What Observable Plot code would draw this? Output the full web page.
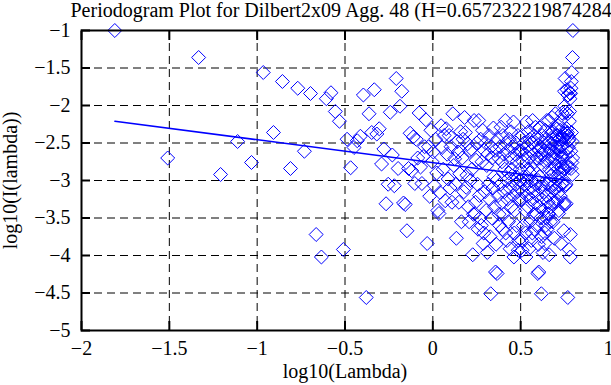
<!DOCTYPE html>
<html><head><meta charset="utf-8">
<script src="https://cdn.jsdelivr.net/npm/d3@7"></script>
<script src="https://cdn.jsdelivr.net/npm/@observablehq/plot@0.6"></script>
<style>html,body{margin:0;padding:0;background:#fff;} svg{display:block}</style>
</head><body><div id="chart"></div>
<script>
const title = "Periodogram Plot for Dilbert2x09 Agg. 48 (H=0.657232219874284";
const xLabel = "log10(Lambda)";
const yLabel = "log10(I(lambda))";
const xTicks = [-2, -1.5, -1, -0.5, 0, 0.5, 1];
const xTickLabels = ["−2", "−1.5", "−1", "−0.5", "0", "0.5", "1"];
const yTicks = [-1, -1.5, -2, -2.5, -3, -3.5, -4, -4.5, -5];
const yTickLabels = ["−1", "−1.5", "−2", "−2.5", "−3", "−3.5", "−4", "−4.5", "−5"];

// series length; Fourier frequencies lambda_j = 2*pi*j/n, j = 1..n-1
const n = 406;
// log10 I(lambda_j) for j = 1..203 (periodogram is symmetric: I_j = I_{n-j})
const logI = [
  -1.00,-2.70,-1.36,-2.92,-2.48,-2.76,-1.56,-2.36,-1.68,-2.84,
  -1.77,-2.61,-1.84,-3.72,-4.02,-1.91,-1.83,-2.08,-2.21,-3.92,
  -2.45,-2.83,-2.56,-2.47,-2.41,-1.86,-4.56,-2.11,-2.36,-1.79,
  -2.38,-2.31,-2.78,-2.58,-3.31,-3.05,-2.09,-2.66,-3.07,-1.64,
  -2.84,-2.01,-1.81,-3.30,-3.32,-3.67,-2.84,-2.37,-2.87,-2.42,
  -3.04,-2.45,-2.70,-2.10,-2.82,-3.04,-2.68,-2.55,-2.19,-3.84,
  -2.55,-3.21,-2.33,-2.75,-2.62,-3.07,-2.45,-2.90,-3.40,-3.44,
  -3.16,-2.27,-2.56,-2.85,-2.40,-3.27,-2.31,-2.65,-2.98,-2.40,
  -3.10,-2.55,-3.29,-2.11,-2.80,-2.71,-3.05,-3.77,-2.48,-2.62,
  -3.29,-2.91,-2.35,-3.55,-2.70,-2.45,-3.15,-2.16,-2.36,-3.09,
  -2.93,-2.51,-3.35,-3.55,-2.60,-3.00,-2.58,-2.85,-3.99,-3.45,
  -2.20,-3.44,-3.29,-2.73,-2.50,-3.05,-3.65,-2.20,-3.20,-3.50,
  -2.45,-3.60,-2.75,-2.33,-3.84,-3.70,-2.60,-3.15,-2.50,-3.40,
  -2.80,-3.96,-2.65,-3.05,-2.40,-3.25,-3.75,-4.51,-2.55,-3.50,
  -2.70,-3.10,-2.30,-2.95,-3.35,-2.60,-4.22,-3.85,-3.00,-4.24,
  -2.45,-3.20,-2.70,-3.45,-3.60,-2.55,-3.05,-2.29,-3.30,-2.75,
  -3.65,-2.40,-3.45,-2.65,-3.15,-2.85,-2.20,-3.70,-2.50,-3.00,
  -3.80,-3.25,-2.60,-3.55,-2.90,-2.45,-3.10,-3.91,-2.70,-2.35,
  -3.35,-2.85,-3.00,-2.55,-3.20,-2.22,-4.02,-3.70,-3.40,-2.65,
  -3.05,-2.50,-2.95,-3.60,-2.75,-3.15,-2.40,-3.93,-3.80,-3.25,
  -2.60,-3.00,-2.85
];
// fitted regression line (log10 lambda, log10 I)
const fitX = [-1.81, 0.78];
const fitY = [-2.21, -3.00];

const points = [];
for (let j = 1; j < n; j++) {
  const k = Math.min(j, n - j);
  points.push({lambda: 2 * Math.PI * j / n, logI: logI[k - 1]});
}
const fit = fitX.map((x, i) => ({x, y: fitY[i]}));

const font = "'Liberation Serif', 'Times New Roman', serif";
const blue = "#0000ff";
const grid = {stroke: "black", strokeOpacity: 1, strokeWidth: 1, strokeDasharray: "8,5"};
const tickMarks = {tickSize: -9, strokeWidth: 2, tickFormat: () => "", label: null};

const chart = Plot.plot({
  width: 611, height: 385,
  marginLeft: 81, marginRight: 3, marginTop: 30, marginBottom: 55,
  style: {fontFamily: font, fontSize: "20px", background: "white", color: "black"},
  x: {domain: [-2, 1]},
  y: {domain: [-5, -1]},
  marks: [
    Plot.gridX(xTicks, grid),
    Plot.gridY(yTicks, grid),
    Plot.dot(points, {x: d => Math.log10(d.lambda), y: "logI", symbol: "diamond2", r: 6.3, stroke: blue, strokeWidth: 1, fill: "none"}),
    Plot.line(fit, {x: "x", y: "y", stroke: blue, strokeWidth: 1.5}),
    Plot.frame({stroke: "black", strokeWidth: 2}),
    Plot.axisX(xTicks, {anchor: "bottom", ...tickMarks}),
    Plot.axisX(xTicks, {anchor: "top", ...tickMarks}),
    Plot.axisY(yTicks, {anchor: "left", ...tickMarks}),
    Plot.axisY(yTicks, {anchor: "right", ...tickMarks}),
    Plot.axisX(xTicks, {anchor: "bottom", tickSize: 0, tickPadding: 10, fontSize: 20, tickFormat: d => xTickLabels[xTicks.indexOf(d)], label: null}),
    Plot.axisY(yTicks, {anchor: "left", tickSize: 0, tickPadding: 11, fontSize: 20, tickFormat: d => yTickLabels[yTicks.indexOf(d)], label: null}),
    Plot.text([title], {frameAnchor: "top-left", dx: -11, dy: -20, text: d => d, fontSize: 20, lineAnchor: "middle", textAnchor: "start"}),
    Plot.text([xLabel], {frameAnchor: "bottom", dy: 41, text: d => d, fontSize: 20, lineAnchor: "middle"}),
    Plot.text([yLabel], {frameAnchor: "left", dx: -71, rotate: -90, text: d => d, fontSize: 20, lineAnchor: "middle", textAnchor: "middle"})
  ]
});
document.getElementById("chart").appendChild(chart);
</script>
</body></html>
